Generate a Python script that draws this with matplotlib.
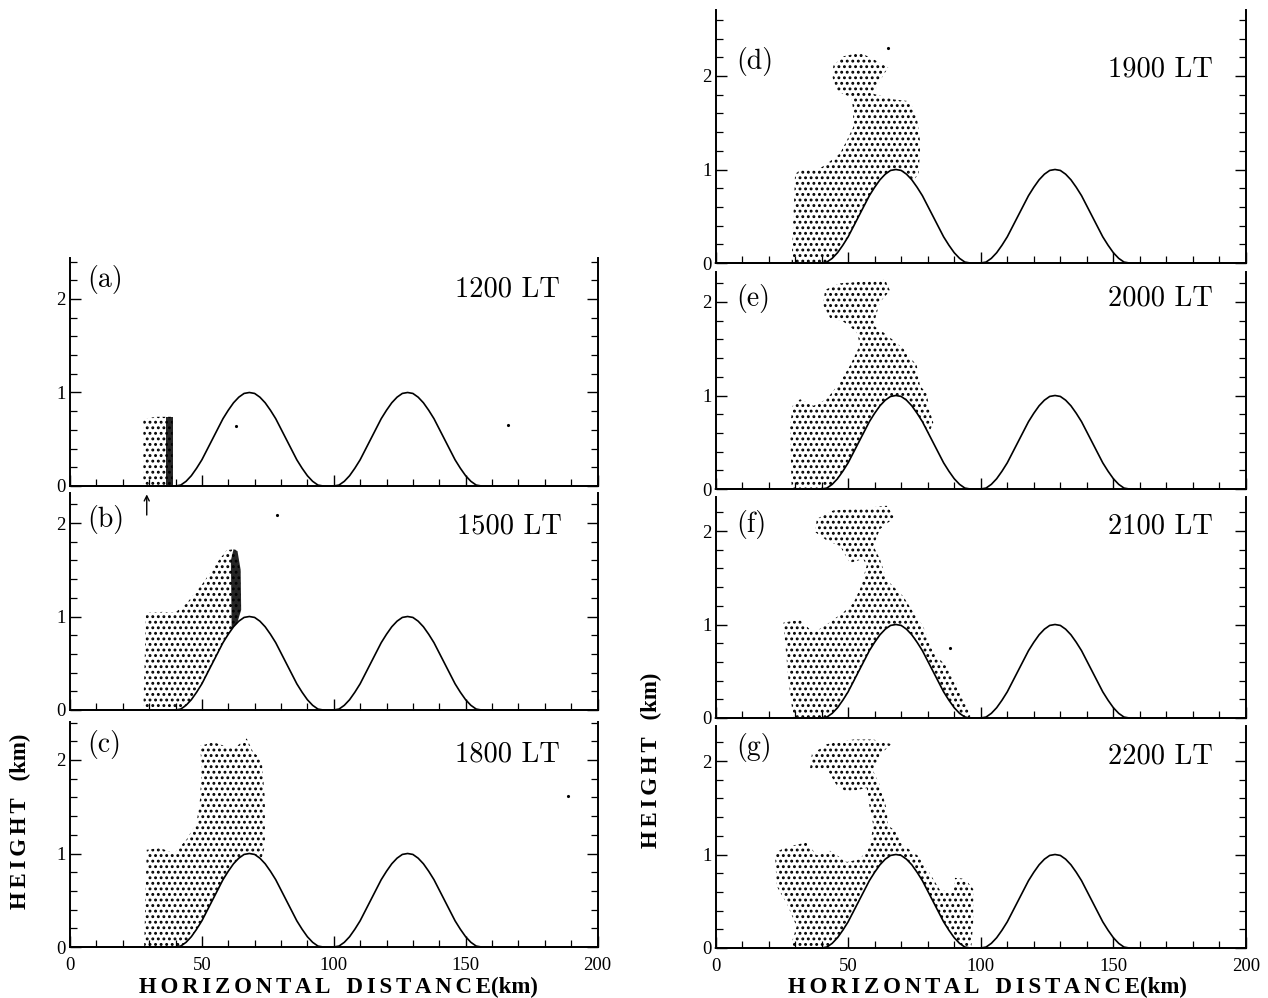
import numpy as np
import matplotlib
matplotlib.use("Agg")
from matplotlib import pyplot as plt
from matplotlib.patches import Polygon

# ---- data ----
# hill profile: offset from crest (km) -> height (km), crests at 68 and 128 km
hill_dx = [-28, -26, -24, -22, -20, -18, -16, -14, -12, -10, -8, -6, -4, -2, 0,
           2, 4, 6, 8, 10, 12, 14, 16, 18, 20, 22, 24, 26, 28]
hill_h = [0.00, 0.01, 0.05, 0.11, 0.19, 0.28, 0.39, 0.50, 0.61, 0.72, 0.81, 0.89, 0.95, 0.99, 1.00,
          0.99, 0.95, 0.89, 0.81, 0.72, 0.61, 0.50, 0.39, 0.28, 0.19, 0.11, 0.05, 0.01, 0.00]
hill_crest = [68, 128]

panel_tags = ['(a)', '(b)', '(c)', '(d)', '(e)', '(f)', '(g)']
panel_times = ['1200 LT', '1500 LT', '1800 LT', '1900 LT', '2000 LT', '2100 LT', '2200 LT']

# outlines of the particle clouds (x km, z km), closed along the ground / hill
cloud_a = [(27.8, 0), (27.8, 0.72), (33.0, 0.74), (38.9, 0.74), (38.9, 0)]
dense_a = [(36.5, 0), (36.5, 0.74), (38.9, 0.74), (38.9, 0)]
cloud_b = [(27.8, 0), (28.8, 1.04), (35.4, 1.05), (39.8, 1.04), (44.2, 1.14), (50.5, 1.36),
           (55.6, 1.57), (59.4, 1.71), (62.6, 1.72), (64.5, 1.50), (64.7, 1.07), (63.2, 0.93)]
dense_b = [(61.3, 0.86), (61.0, 1.60), (62.0, 1.72), (63.5, 1.70), (64.7, 1.50), (64.9, 1.07),
           (63.4, 0.93)]
cloud_c = [(28.1, 0), (29.1, 1.04), (34.1, 1.06), (39.5, 1.00), (44.2, 1.15), (48.0, 1.33),
           (49.3, 1.58), (49.9, 1.94), (49.3, 2.15), (54.3, 2.19), (61.9, 2.12), (67.0, 2.23),
           (69.5, 2.08), (72.7, 2.01), (73.9, 1.58), (73.9, 1.08), (72.7, 0.95)]
cloud_d = [(28.7, 0), (30.0, 0.95), (32.5, 1.01), (38.2, 0.99), (41.9, 1.06), (46.9, 1.17),
           (49.5, 1.31), (51.9, 1.45), (51.9, 1.63), (51.3, 1.77), (45.7, 1.84), (44.2, 1.98),
           (44.4, 2.11), (48.2, 2.21), (54.5, 2.25), (59.5, 2.18), (65.1, 2.09), (62.0, 1.95),
           (59.5, 1.81), (67.0, 1.75), (73.3, 1.73), (75.9, 1.56), (77.1, 1.31), (77.1, 1.17),
           (76.5, 0.95), (74.5, 0.88)]
cloud_e = [(28.7, 0), (28.1, 0.67), (29.1, 0.89), (31.9, 0.96), (36.9, 0.89), (41.9, 0.96),
           (46.9, 1.14), (50.7, 1.32), (54.5, 1.54), (53.2, 1.68), (48.2, 1.79), (43.2, 1.83),
           (40.6, 1.97), (41.3, 2.13), (46.9, 2.20), (57.0, 2.22), (63.9, 2.24), (65.8, 2.12),
           (62.0, 2.00), (59.5, 1.75), (64.5, 1.65), (70.8, 1.50), (75.9, 1.32), (77.1, 1.10),
           (79.6, 1.03), (80.9, 0.82), (82.1, 0.71), (80.5, 0.60)]
cloud_f = [(29.3, 0), (27.5, 0.41), (25.6, 1.02), (31.9, 1.05), (36.9, 0.91), (41.9, 1.00),
           (48.2, 1.13), (52.0, 1.23), (54.5, 1.38), (57.0, 1.63), (55.7, 1.70), (50.7, 1.66),
           (46.9, 1.84), (41.9, 1.90), (37.5, 1.99), (38.2, 2.13), (44.4, 2.22), (54.5, 2.24),
           (64.5, 2.27), (67.7, 2.15), (62.0, 2.02), (59.5, 1.84), (62.0, 1.70), (64.5, 1.48),
           (70.8, 1.30), (74.6, 1.13), (78.3, 0.98), (82.1, 0.70), (87.2, 0.55), (90.9, 0.37),
           (93.4, 0.19), (96.0, 0.09), (96.0, 0.0)]
cloud_g = [(28.1, 0), (30.6, 0.23), (26.8, 0.48), (23.1, 0.66), (22.4, 1.02), (26.8, 1.08),
           (34.4, 1.13), (38.2, 0.99), (43.2, 1.04), (49.5, 0.92), (54.5, 0.95), (58.2, 1.10),
           (59.5, 1.31), (58.2, 1.49), (57.0, 1.71), (49.5, 1.67), (45.7, 1.74), (41.9, 1.92),
           (35.6, 1.91), (36.3, 2.07), (41.9, 2.18), (52.0, 2.23), (59.5, 2.23), (66.4, 2.18),
           (62.0, 2.07), (59.5, 1.89), (62.0, 1.74), (64.5, 1.49), (65.1, 1.31), (68.3, 1.24),
           (70.8, 1.10), (77.1, 0.97), (84.6, 0.62), (89.5, 0.60), (90.3, 0.75), (94.0, 0.74),
           (97.2, 0.63), (97.2, 0.30), (96.5, 0.03)]

# isolated specks
stray_x = [[63, 166], [78.4], [188.8], [65.0], [], [88.4], []]
stray_z = [[0.64, 0.65], [2.09], [1.62], [2.30], [], [0.75], []]

# ---- layout (pixel boxes of the panels) ----
W, H = 1268, 998
boxes = [(70, 597.5, 258, 486), (70, 597.5, 493, 710), (70, 597.5, 722, 947),
         (715.5, 1246, 10, 263), (715.5, 1246, 272, 489), (715.5, 1246, 497, 718),
         (715.5, 1246, 726, 948)]
px_per_km = 93.5
tag_pos = [(6.4, 2.21), (6.4, 2.04), (6.4, 2.17), (8.0, 2.16), (8.0, 2.04), (8.0, 2.07), (8.0, 2.14)]
time_pos = [(185.8, 2.10), (186.5, 1.96), (185.8, 2.06), (187.6, 2.07), (187.6, 2.04), (187.6, 2.05), (187.6, 2.05)]

plt.rcParams['hatch.linewidth'] = 1.3
serif = ['Liberation Serif', 'DejaVu Serif']

terrain_x, terrain_h = [0.0], [0.0]
for c in hill_crest:
    terrain_x += [c + d for d in hill_dx]
    terrain_h += hill_h
terrain_x.append(200.0)
terrain_h.append(0.0)


def close_on_ground(pts):
    # go back to the start along the terrain
    x0, x1 = pts[0][0], pts[-1][0]
    back = [(x, h) for x, h in zip(terrain_x, terrain_h) if x0 < x < x1]
    return pts + back[::-1]


def add_cloud(ax, pts, hatch=None, solid=False):
    if solid:
        poly = Polygon(close_on_ground(pts), closed=True, facecolor='black', alpha=0.85,
                       linewidth=0, zorder=2)
    else:
        poly = Polygon(close_on_ground(pts), closed=True, facecolor='none', edgecolor='black',
                       linewidth=0, hatch=hatch, zorder=2)
    ax.add_patch(poly)


clouds = [cloud_a, cloud_b, cloud_c, cloud_d, cloud_e, cloud_f, cloud_g]
denses = [dense_a, dense_b, None, None, None, None, None]

fig = plt.figure(figsize=(W / 100, H / 100), dpi=100)
axes = []
for i in range(7):
    l, r, t, b = boxes[i]
    ax = fig.add_axes([l / W, 1 - b / H, (r - l) / W, (b - t) / H])
    ax.patch.set_visible(False)
    top = (b - t) / px_per_km
    ax.set_xlim(0, 200)
    ax.set_ylim(0, top)

    add_cloud(ax, clouds[i], '...')
    if denses[i] is not None:
        add_cloud(ax, denses[i], solid=True)
    ax.plot(terrain_x, terrain_h, color='black', lw=1.2, zorder=3, clip_on=False)
    if stray_x[i]:
        ax.plot(stray_x[i], stray_z[i], 'k.', ms=2.5)

    ax.text(tag_pos[i][0], tag_pos[i][1], panel_tags[i], ha='left', va='center',
            fontsize=20, family='cmr10')
    ax.text(time_pos[i][0], time_pos[i][1], panel_times[i], ha='right', va='center',
            fontsize=20.5, family='cmr10')

    ax.set_xticks([0, 50, 100, 150, 200])
    ax.set_xticks(np.arange(0, 201, 10), minor=True)
    ax.set_yticks([0, 1, 2])
    ax.set_yticks(np.arange(0, top, 0.2), minor=True)
    ax.tick_params(which='both', direction='in', left=True, right=True, top=False, bottom=True)
    ax.tick_params(which='major', length=8, width=1.0)
    ax.tick_params(which='minor', length=5, width=0.9)
    ax.tick_params(axis='y', pad=3)
    ax.tick_params(axis='x', pad=7)
    ax.spines['top'].set_visible(False)
    for s in ['left', 'right', 'bottom']:
        ax.spines[s].set_linewidth(1.4)
    for lab in ax.get_xticklabels() + ax.get_yticklabels():
        lab.set_fontfamily(serif)
        lab.set_fontsize(13.5)
    if i not in (2, 6):
        ax.tick_params(labelbottom=False)
    axes.append(ax)

# arrow marking the source in (a)
axes[0].annotate('', xy=(29.1, -0.06), xytext=(29.1, -0.34), annotation_clip=False,
                 arrowprops=dict(arrowstyle='->', lw=1.0, color='black', mutation_scale=9))

gap = '\u200a\u200a'
xlab = gap.join('HORIZONTAL') + '   ' + gap.join('DISTANCE') + '(km)'
ylab = gap.join('HEIGHT') + '   (km)'
fig.text(338 / W, 1 - 987 / H, xlab, ha='center', va='center', fontsize=16.5,
         fontweight='bold', family=serif)
fig.text(987 / W, 1 - 987 / H, xlab, ha='center', va='center', fontsize=16.5,
         fontweight='bold', family=serif)
fig.text(20 / W, 1 - 821 / H, ylab, ha='center', va='center', rotation=90, fontsize=16.5,
         fontweight='bold', family=serif)
fig.text(651 / W, 1 - 760 / H, ylab, ha='center', va='center', rotation=90, fontsize=16.5,
         fontweight='bold', family=serif)

fig.savefig('out.png', dpi=100)
